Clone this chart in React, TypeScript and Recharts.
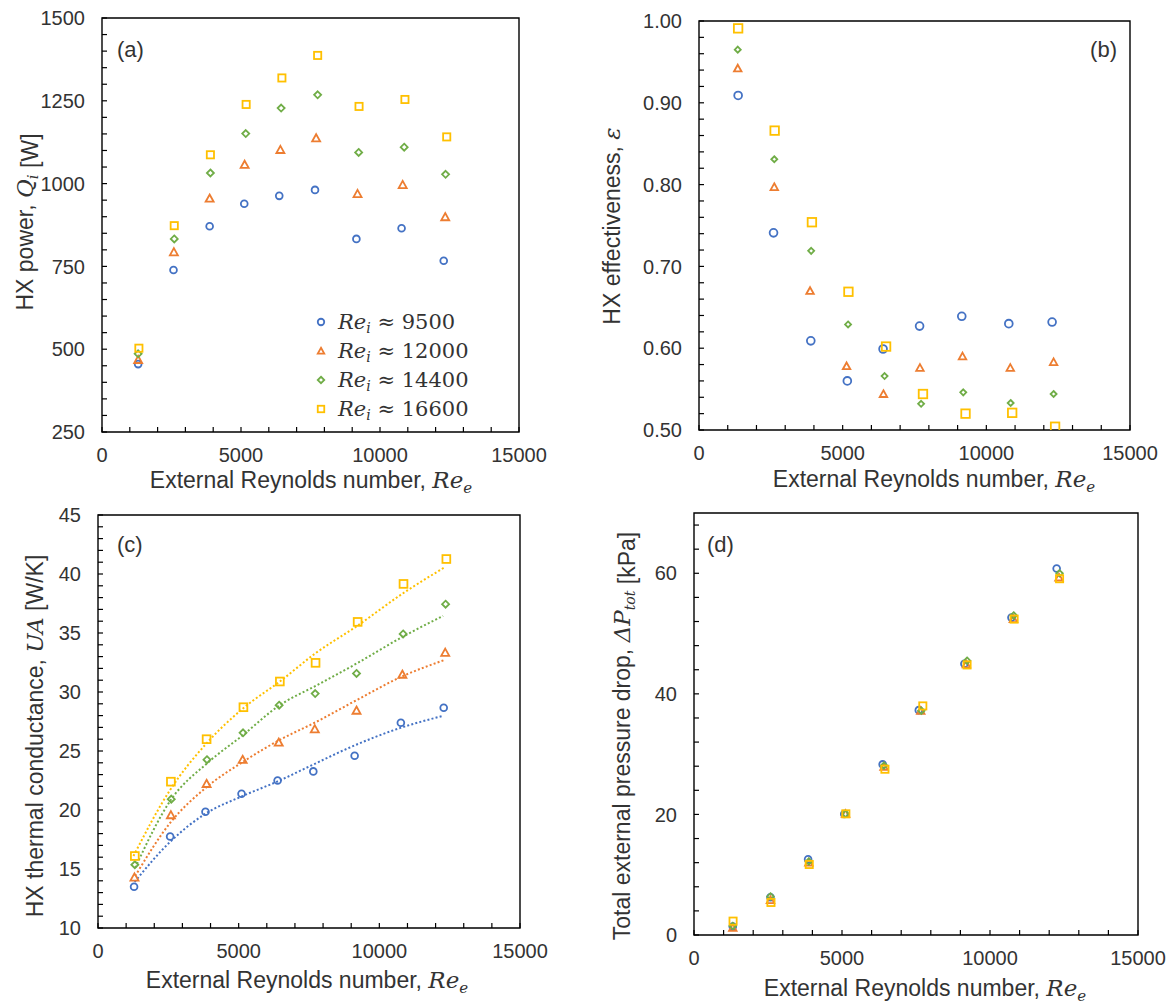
import { Legend, ReferenceArea, Scatter, ScatterChart, XAxis, YAxis } from "recharts";

const BLUE = "#4472C4";
const ORANGE = "#ED7D31";
const GREEN = "#70AD47";
const GOLD = "#FFC000";
const INK = "#333333";
const SANS = "'Liberation Sans', Arial, sans-serif";
const SERIF = "'DejaVu Serif', serif";

const legendLabels = ["9500", "12000", "14400", "16600"];

// shared x axis (external Reynolds number)
const xTicks = [0, 1000, 2000, 3000, 4000, 5000, 6000, 7000, 8000, 9000, 10000, 11000, 12000, 13000, 14000, 15000];
const xLabels = [0, 5000, 10000, 15000];

// (a) HX power [W]
const aTicks = [250, 300, 350, 400, 450, 500, 550, 600, 650, 700, 750, 800, 850, 900, 950, 1000, 1050, 1100, 1150, 1200, 1250, 1300, 1350, 1400, 1450, 1500];
const aLabels = [250, 500, 750, 1000, 1250, 1500];
const aBlueX = [1300, 2572, 3872, 5117, 6376, 7662, 9151, 10776, 12292];
const aBlueY = [455, 739, 871, 939, 963, 981, 833, 865, 767];
const aOrangeX = [1300, 2586, 3872, 5131, 6417, 7703, 9192, 10816, 12346];
const aOrangeY = [468, 793, 955, 1057, 1102, 1137, 969, 996, 899];
const aGreenX = [1300, 2599, 3899, 5171, 6444, 7757, 9232, 10870, 12359];
const aGreenY = [486, 833, 1032, 1151, 1228, 1268, 1094, 1110, 1028];
const aGoldX = [1327, 2599, 3899, 5185, 6471, 7757, 9246, 10897, 12400];
const aGoldY = [503, 873, 1087, 1239, 1319, 1387, 1233, 1254, 1141];

// (b) HX effectiveness
const bTicks = [0.5, 0.52, 0.54, 0.56, 0.58, 0.6, 0.62, 0.64, 0.66, 0.68, 0.7, 0.72, 0.74, 0.76, 0.78, 0.8, 0.82, 0.84, 0.86, 0.88, 0.9, 0.92, 0.94, 0.96, 0.98, 1.0];
const bLabels = [0.5, 0.6, 0.7, 0.8, 0.9, 1.0];
const bBlueX = [1362, 2594, 3891, 5162, 6406, 7677, 9145, 10782, 12289];
const bBlueY = [0.909, 0.741, 0.609, 0.56, 0.599, 0.627, 0.639, 0.63, 0.632];
const bOrangeX = [1349, 2620, 3865, 5136, 6419, 7690, 9171, 10834, 12341];
const bOrangeY = [0.942, 0.797, 0.67, 0.578, 0.544, 0.576, 0.59, 0.576, 0.583];
const bGreenX = [1349, 2620, 3904, 5188, 6459, 7730, 9197, 10847, 12341];
const bGreenY = [0.965, 0.831, 0.719, 0.629, 0.566, 0.532, 0.546, 0.533, 0.544];
const bGoldX = [1362, 2633, 3930, 5201, 6511, 7795, 9276, 10900, 12393];
const bGoldY = [0.991, 0.866, 0.754, 0.669, 0.602, 0.544, 0.52, 0.521, 0.504];

// (c) UA [W/K] with dotted trend lines
const cTicks = [10, 11, 12, 13, 14, 15, 16, 17, 18, 19, 20, 21, 22, 23, 24, 25, 26, 27, 28, 29, 30, 31, 32, 33, 34, 35, 36, 37, 38, 39, 40, 41, 42, 43, 44, 45];
const cLabels = [10, 15, 20, 25, 30, 35, 40, 45];
const cBlueX = [1282, 2564, 3820, 5102, 6384, 7653, 9122, 10765, 12288];
const cBlueY = [13.5, 17.76, 19.85, 21.38, 22.5, 23.27, 24.6, 27.39, 28.66];
const cOrangeX = [1296, 2591, 3860, 5142, 6424, 7706, 9189, 10819, 12342];
const cOrangeY = [14.29, 19.57, 22.22, 24.26, 25.72, 26.85, 28.43, 31.48, 33.34];
const cGreenX = [1309, 2604, 3873, 5156, 6438, 7720, 9189, 10846, 12355];
const cGreenY = [15.36, 20.92, 24.26, 26.54, 28.88, 29.87, 31.57, 34.92, 37.44];
const cGoldX = [1309, 2591, 3860, 5169, 6464, 7733, 9229, 10859, 12382];
const cGoldY = [16.1, 22.4, 26.0, 28.71, 30.89, 32.47, 35.94, 39.16, 41.27];
const cBlueFitX = [1300, 2563, 3830, 5108, 6408, 7650, 8953, 10728, 12265];
const cBlueFitY = [13.9, 17.3, 19.7, 21.15, 22.45, 23.85, 25.3, 26.94, 27.98];
const cOrangeFitX = [1320, 2563, 3866, 5165, 6468, 7735, 9212, 10800, 12326];
const cOrangeFitY = [14.4, 18.9, 21.95, 24.1, 25.95, 27.44, 29.34, 31.31, 32.72];
const cGreenFitX = [1320, 2588, 3888, 5165, 6438, 7735, 9212, 10845, 12265];
const cGreenFitY = [15.1, 20.85, 23.98, 26.37, 28.85, 30.52, 32.44, 34.7, 36.45];
const cGoldFitX = [1260, 2563, 3866, 5165, 6464, 7735, 9212, 10845, 12326];
const cGoldFitY = [16.1, 21.7, 25.67, 28.63, 30.89, 33.29, 35.6, 38.37, 40.57];

// (d) total external pressure drop [kPa]
const dTicks = [0, 4, 8, 12, 16, 20, 24, 28, 32, 36, 40, 44, 48, 52, 56, 60, 64, 68];
const dLabels = [0, 20, 40, 60];
const dBlueX = [1310, 2583, 3855, 5076, 6374, 7595, 9135, 10725, 12252];
const dBlueY = [1.4, 6.25, 12.55, 20.08, 28.3, 37.3, 45.0, 52.65, 60.8];
const dOrangeX = [1310, 2583, 3880, 5120, 6420, 7660, 9200, 10790, 12330];
const dOrangeY = [1.2, 5.8, 12.0, 20.1, 27.9, 37.2, 44.9, 52.4, 59.3];
const dGreenX = [1310, 2583, 3880, 5120, 6420, 7680, 9225, 10800, 12350];
const dGreenY = [1.5, 6.4, 12.2, 20.1, 28.1, 37.2, 45.5, 53.0, 60.0];
const dGoldX = [1320, 2600, 3893, 5130, 6450, 7730, 9225, 10815, 12350];
const dGoldY = [2.3, 5.4, 11.7, 20.1, 27.5, 38.0, 44.8, 52.4, 59.1];

type Pt = { x: number; y: number };
type Kind = "circle" | "triangle" | "diamond" | "square";

const zip = (xs: number[], ys: number[]): Pt[] => xs.map((x, i) => ({ x, y: ys[i] }));

function Marker({ cx, cy, kind, color, size }: { cx: number; cy: number; kind: Kind; color: string; size: number }) {
  const h = size / 2;
  const common = { fill: "none", stroke: color, strokeWidth: 1.8 };
  if (kind === "circle") return <circle cx={cx} cy={cy} r={h} {...common} />;
  if (kind === "square") return <rect x={cx - h} y={cy - h} width={size} height={size} {...common} />;
  if (kind === "diamond")
    return <path d={`M${cx},${cy - h}L${cx + h},${cy}L${cx},${cy + h}L${cx - h},${cy}Z`} {...common} />;
  return <path d={`M${cx},${cy - h}L${cx + h},${cy + h * 0.8}L${cx - h},${cy + h * 0.8}Z`} {...common} strokeLinejoin="miter" />;
}

const shapeFor = (kind: Kind, color: string, size: number) => (p: any) =>
  p.cx == null ? <g /> : <Marker cx={p.cx} cy={p.cy} kind={kind} color={color} size={size} />;

const isMajor = (labels: number[], v: number) => labels.some((l) => Math.abs(l - v) < 1e-6);

const xTick = (p: any) => {
  const v = p.payload.value;
  return (
    <g>
      <line x1={p.x} x2={p.x} y1={p.y} y2={p.y - 5} stroke="#000" strokeWidth={1.2} />
      {isMajor(xLabels, v) && (
        <text x={p.x} y={p.y + 30} textAnchor="middle" fontSize={20} fontFamily={SANS} fill={INK}>
          {v}
        </text>
      )}
    </g>
  );
};

const yTickFor = (labels: number[], fmt: (v: number) => string) => (p: any) => {
  const v = p.payload.value;
  return (
    <g>
      <line x1={p.x} x2={p.x + 5} y1={p.y} y2={p.y} stroke="#000" strokeWidth={1.2} />
      {isMajor(labels, v) && (
        <text x={p.x - 17} y={p.y} dy="0.36em" textAnchor="end" fontSize={20} fontFamily={SANS} fill={INK}>
          {fmt(v)}
        </text>
      )}
    </g>
  );
};

type SeriesDef = { data: Pt[]; kind: Kind; color: string; size: number };

interface PanelProps {
  left: number;
  top: number;
  width: number;
  height: number;
  margin: { top: number; right: number; left: number; bottom: number };
  yWidth: number;
  xHeight: number;
  yDomain: [number, number];
  yTicks: number[];
  yLabels: number[];
  yFmt: (v: number) => string;
  series: SeriesDef[];
  fits?: { data: Pt[]; color: string }[];
  legend?: boolean;
}

const kinds: Kind[] = ["circle", "triangle", "diamond", "square"];
const colors = [BLUE, ORANGE, GREEN, GOLD];

function LegendBox() {
  return (
    <div style={{ fontFamily: SERIF, fontSize: 21, color: INK }}>
      {legendLabels.map((lab, i) => (
        <div key={lab} style={{ display: "flex", alignItems: "center", height: 29, whiteSpace: "nowrap" }}>
          <svg width={14} height={14} style={{ marginRight: 10 }}>
            <Marker cx={7} cy={7} kind={kinds[i]} color={colors[i]} size={6.5} />
          </svg>
          <span style={{ fontStyle: "italic" }}>Re</span>
          <span style={{ fontStyle: "italic", fontSize: 14, position: "relative", top: 6 }}>i</span>
          <span>&nbsp;≈ {lab}</span>
        </div>
      ))}
    </div>
  );
}

function Panel(props: PanelProps) {
  const { yDomain } = props;
  return (
    <div style={{ position: "absolute", left: props.left, top: props.top }}>
      <ScatterChart width={props.width} height={props.height} margin={props.margin}>
        <XAxis
          type="number"
          dataKey="x"
          domain={[0, 15000]}
          ticks={xTicks}
          interval={0}
          tick={xTick}
          tickLine={false}
          axisLine={false}
          tickSize={0}
          tickMargin={0}
          height={props.xHeight}
          allowDataOverflow
        />
        <YAxis
          type="number"
          dataKey="y"
          domain={yDomain}
          ticks={props.yTicks}
          interval={0}
          tick={yTickFor(props.yLabels, props.yFmt)}
          tickLine={false}
          axisLine={false}
          tickSize={0}
          tickMargin={0}
          width={props.yWidth}
          allowDataOverflow
        />
        <ReferenceArea
          x1={0}
          x2={15000}
          y1={yDomain[0]}
          y2={yDomain[1]}
          fill="none"
          stroke="#000"
          strokeWidth={1.4}
          ifOverflow="visible"
        />
        {(props.fits || []).map((f, i) => (
          <Scatter
            key={`fit${i}`}
            data={f.data}
            line={{ stroke: f.color, strokeWidth: 2, strokeDasharray: "2 2.2" }}
            lineJointType="monotoneX"
            shape={() => <g />}
            legendType="none"
            isAnimationActive={false}
          />
        ))}
        {props.series.map((s, i) => (
          <Scatter
            key={`s${i}`}
            name={legendLabels[i]}
            data={s.data}
            shape={shapeFor(s.kind, s.color, s.size)}
            isAnimationActive={false}
          />
        ))}
        {props.legend && (
          <Legend
            layout="vertical"
            align="center"
            verticalAlign="middle"
            content={() => <LegendBox />}
            wrapperStyle={{ left: 314, top: 307, width: 200, height: 120 }}
          />
        )}
      </ScatterChart>
    </div>
  );
}

function Sub({ children, size = 15 }: { children: string; size?: number }) {
  return (
    <>
      <tspan fontFamily={SERIF} fontStyle="italic" fontSize={size} dy={5}>
        {children}
      </tspan>
      <tspan dy={-5}></tspan>
    </>
  );
}

function XTitle({ cx, y }: { cx: number; y: number }) {
  return (
    <text x={cx} y={y} textAnchor="middle" fontSize={23} fontFamily={SANS} fill={INK}>
      External Reynolds number,{" "}
      <tspan fontFamily={SERIF} fontStyle="italic">
        Re
      </tspan>
      <tspan fontFamily={SERIF} fontStyle="italic" fontSize={15} dy={5}>
        e
      </tspan>
    </text>
  );
}

function YTitle({ cx, cy, children }: { cx: number; cy: number; children: any }) {
  return (
    <text
      x={cx}
      y={cy}
      dy="0.36em"
      textAnchor="middle"
      fontSize={23}
      fontFamily={SANS}
      fill={INK}
      transform={`rotate(-90 ${cx} ${cy})`}
    >
      {children}
    </text>
  );
}

const it = { fontFamily: SERIF, fontStyle: "italic" as const };

export default function App() {
  const mk = (xs: number[][], ys: number[][], sizes: number[]): SeriesDef[] =>
    xs.map((x, i) => ({ data: zip(x, ys[i]), kind: kinds[i], color: colors[i], size: sizes[i] }));

  const aSeries = mk([aBlueX, aOrangeX, aGreenX, aGoldX], [aBlueY, aOrangeY, aGreenY, aGoldY], [6.8, 8, 7, 7.2]);
  const bSeries = mk([bBlueX, bOrangeX, bGreenX, bGoldX], [bBlueY, bOrangeY, bGreenY, bGoldY], [7.8, 7.5, 6, 8.5]);
  const cSeries = mk([cBlueX, cOrangeX, cGreenX, cGoldX], [cBlueY, cOrangeY, cGreenY, cGoldY], [6.8, 8, 7, 7.8]);
  const dSeries = mk([dBlueX, dOrangeX, dGreenX, dGoldX], [dBlueY, dOrangeY, dGreenY, dGoldY], [6.8, 7.5, 6.5, 7.2]);
  const cFits = [
    { data: zip(cBlueFitX, cBlueFitY), color: BLUE },
    { data: zip(cOrangeFitX, cOrangeFitY), color: ORANGE },
    { data: zip(cGreenFitX, cGreenFitY), color: GREEN },
    { data: zip(cGoldFitX, cGoldFitY), color: GOLD },
  ];

  return (
    <div style={{ position: "absolute", left: 0, top: 0, width: 1176, height: 1006, background: "#fff" }}>
      <Panel
        left={0}
        top={0}
        width={588}
        height={500}
        margin={{ top: 18, right: 69, left: 0, bottom: 0 }}
        yWidth={102}
        xHeight={68}
        yDomain={[250, 1500]}
        yTicks={aTicks}
        yLabels={aLabels}
        yFmt={(v) => String(v)}
        series={aSeries}
        legend
      />
      <Panel
        left={588}
        top={0}
        width={588}
        height={500}
        margin={{ top: 21, right: 46, left: 0, bottom: 0 }}
        yWidth={111}
        xHeight={70}
        yDomain={[0.5, 1.0]}
        yTicks={bTicks}
        yLabels={bLabels}
        yFmt={(v) => v.toFixed(2)}
        series={bSeries}
      />
      <Panel
        left={0}
        top={500}
        width={588}
        height={506}
        margin={{ top: 15, right: 68, left: 0, bottom: 0 }}
        yWidth={98}
        xHeight={78}
        yDomain={[10, 45]}
        yTicks={cTicks}
        yLabels={cLabels}
        yFmt={(v) => String(v)}
        series={cSeries}
        fits={cFits}
      />
      <Panel
        left={588}
        top={500}
        width={588}
        height={506}
        margin={{ top: 13, right: 38, left: 0, bottom: 0 }}
        yWidth={106}
        xHeight={71}
        yDomain={[0, 70]}
        yTicks={dTicks}
        yLabels={dLabels}
        yFmt={(v) => String(v)}
        series={dSeries}
      />
      <svg
        width={1176}
        height={1006}
        style={{ position: "absolute", left: 0, top: 0, pointerEvents: "none" }}
      >
        <XTitle cx={311} y={488} />
        <XTitle cx={934} y={487} />
        <XTitle cx={307} y={988} />
        <XTitle cx={925} y={996} />
        <YTitle cx={25} cy={222}>
          HX power, <tspan {...it}>Q</tspan>
          <Sub>i</Sub> [W]
        </YTitle>
        <YTitle cx={612} cy={226}>
          HX effectiveness, <tspan {...it}>ε</tspan>
        </YTitle>
        <YTitle cx={35} cy={736}>
          HX thermal conductance, <tspan {...it}>UA</tspan> [W/K]
        </YTitle>
        <YTitle cx={622} cy={736}>
          Total external pressure drop, <tspan {...it}>ΔP</tspan>
          <Sub size={14}>tot</Sub> [kPa]
        </YTitle>
        <g fontSize={22} fontFamily={SANS} fill={INK}>
          <text x={117} y={57}>(a)</text>
          <text x={1117} y={57} textAnchor="end">(b)</text>
          <text x={117} y={552}>(c)</text>
          <text x={707} y={552}>(d)</text>
        </g>
      </svg>
    </div>
  );
}
